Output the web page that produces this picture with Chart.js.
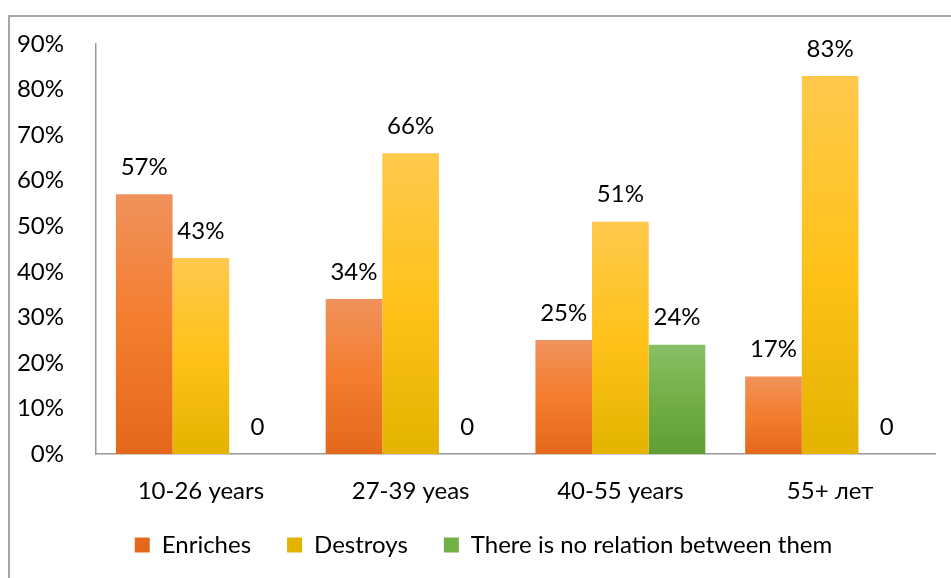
<!DOCTYPE html>
<html>
<head>
<meta charset="utf-8">
<script src="https://cdn.jsdelivr.net/npm/chart.js@4.4.1/dist/chart.umd.min.js"></script>
<style>
  html, body { margin: 0; padding: 0; background: #fff; }
  #wrap { width: 951px; height: 578px; position: relative; }
</style>
</head>
<body>
<div id="wrap"><canvas id="canvas" width="951" height="578"></canvas></div>
<script>
    var categories = ["10-26 years", "27-39 yeas", "40-55 years", "55+ лет"];
    var enriches = [57, 34, 25, 17];
    var destroys = [43, 66, 51, 83];
    var noRelation = [0, 0, 24, 0];
    var yTicks = [0, 10, 20, 30, 40, 50, 60, 70, 80, 90];

    var FONT = "Lato";

    // excel-like vertical gradient for each bar
    var barFill = function(top, mid, bottom) {
        return function(ctx) {
            if (ctx.type !== 'data') return mid;
            var chart = ctx.chart;
            var y = chart.scales.y;
            if (!chart.chartArea || !y) return mid;
            var y0 = y.getPixelForValue(0);
            var y1 = y.getPixelForValue(ctx.raw);
            if (!isFinite(y0) || !isFinite(y1) || y0 === y1) return mid;
            var g = chart.ctx.createLinearGradient(0, y1, 0, y0);
            g.addColorStop(0, top);
            g.addColorStop(0.5, mid);
            g.addColorStop(1, bottom);
            return g;
        };
    };

    var valueLabels = {
        id: 'valueLabels',
        afterDatasetsDraw: function(chart) {
            var ctx = chart.ctx;
            ctx.save();
            ctx.font = "24px " + FONT;
            ctx.fillStyle = "#000";
            ctx.textAlign = "center";
            ctx.textBaseline = "middle";
            chart.data.datasets.forEach(function(ds, i) {
                var meta = chart.getDatasetMeta(i);
                meta.data.forEach(function(el, j) {
                    var v = ds.data[j];
                    var txt = v === 0 ? "0" : v + "%";
                    ctx.fillText(txt, el.x, el.y - 27);
                });
            });
            ctx.restore();
        }
    };

    // outer frame + nudge the legend a bit (like the excel one)
    var frame = {
        id: 'frame',
        afterLayout: function(chart) {
            var lg = chart.legend;
            if (!lg) return;
            lg.top -= 7; lg.bottom -= 7;
            lg.left += 16; lg.right += 16;
        },
        beforeDraw: function(chart) {
            var ctx = chart.ctx;
            ctx.save();
            ctx.strokeStyle = "#a6a6a6";
            ctx.lineWidth = 2;
            ctx.beginPath();
            ctx.moveTo(9, 600);
            ctx.lineTo(9, 16);
            ctx.lineTo(960, 16);
            ctx.stroke();
            ctx.restore();
        }
    };

    var config = {
        type: 'bar',
        data: {
            labels: categories,
            datasets: [{
                label: "Enriches",
                data: enriches,
                backgroundColor: barFill("#f0925c", "#f47d2e", "#e4681c")
            }, {
                label: "Destroys",
                data: destroys,
                backgroundColor: barFill("#ffc94d", "#ffc21a", "#e3b300")
            }, {
                label: "There is no relation between them",
                data: noRelation,
                backgroundColor: barFill("#88bf66", "#72b045", "#5e9e34")
            }]
        },
        options: {
            responsive: false,
            animation: false,
            layout: {
                padding: { left: 0, top: 44, right: 16, bottom: 4 }
            },
            datasets: {
                bar: { categoryPercentage: 0.81, barPercentage: 1.0 }
            },
            plugins: {
                tooltip: { enabled: false },
                legend: {
                    position: 'bottom',
                    labels: {
                        font: { family: FONT, size: 24 },
                        color: "#000",
                        boxWidth: 15,
                        boxHeight: 15,
                        padding: 36
                    }
                }
            },
            scales: {
                x: {
                    grid: { display: false },
                    border: { display: true, color: "#999", width: 1.5 },
                    ticks: {
                        font: { family: FONT, size: 24 },
                        color: "#000",
                        padding: 15
                    },
                    afterFit: function(s) { s.height = 50; }
                },
                y: {
                    min: 0,
                    max: 90,
                    afterBuildTicks: function(s) {
                        s.ticks = yTicks.map(function(v) { return { value: v }; });
                    },
                    grid: { display: false },
                    border: { display: true, color: "#999", width: 1.5 },
                    ticks: {
                        font: { family: FONT, size: 24 },
                        color: "#000",
                        padding: 24,
                        callback: function(v) { return v + "%"; }
                    },
                    afterFit: function(s) { s.width = 96; }
                }
            }
        },
        plugins: [valueLabels, frame]
    };

    window.onload = function() {
        window.myBar = new Chart(document.getElementById("canvas"), config);
    };
</script>
</body>
</html>
